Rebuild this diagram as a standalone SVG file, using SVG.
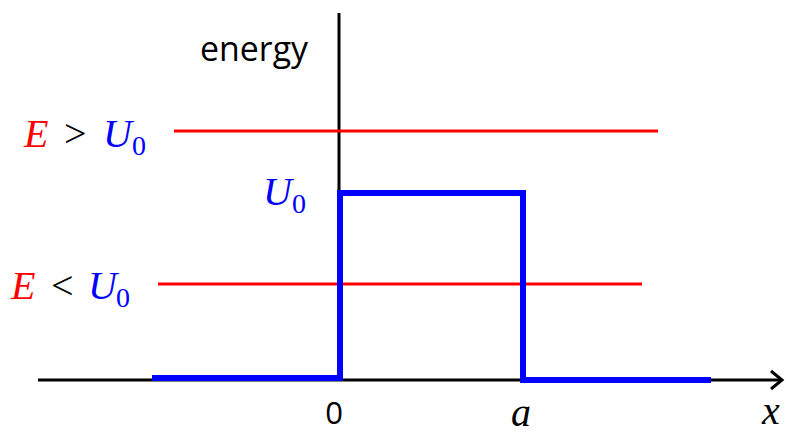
<svg xmlns="http://www.w3.org/2000/svg" width="786" height="434" viewBox="0 0 786 434">
<style>
.ax{stroke:#000;stroke-width:3;fill:none}
.lvl{stroke:#ff0000;stroke-width:3;fill:none}
.pot{stroke:#0000ff;stroke-width:6;fill:none;stroke-linejoin:miter}
.m{font-family:"Liberation Serif","Times New Roman",serif;font-size:40px}
.i{font-style:italic}
.s{font-size:28px;font-style:normal}
.r{fill:#ff0000}
.b{fill:#0000ff}
.k{fill:#000}
.sans{font-family:"Open Sans","Liberation Sans",sans-serif;fill:#000}
</style>
<rect width="786" height="434" fill="#fff"/>
<g id="connectors">
<line class="ax" x1="339" y1="13" x2="339" y2="380"/>
<line class="ax" x1="38" y1="380" x2="782" y2="380"/>
<polyline class="ax" points="771,371 782,380 771,389"/>
<line class="lvl" x1="174" y1="131" x2="658" y2="131"/>
<line class="lvl" x1="158" y1="284" x2="642" y2="284"/>
<path class="pot" d="M152,378 H340 V193 H523 V380 H711"/>
</g>
<g id="label-energy"><text class="sans" x="200" y="61" font-size="35" textLength="108" lengthAdjust="spacingAndGlyphs">energy</text></g>
<g id="label-E-gt-U0">
<text class="m i r" x="24" y="147">E</text>
<text class="m k" x="64" y="147">&gt;</text>
<text class="m i b" x="103" y="147">U</text>
<text class="m s b" x="132" y="155">0</text>
</g>
<g id="label-E-lt-U0">
<text class="m i r" x="11" y="299">E</text>
<text class="m k" x="51" y="299">&lt;</text>
<text class="m i b" x="88" y="299">U</text>
<text class="m s b" x="116" y="307">0</text>
</g>
<g id="label-U0">
<text class="m i b" x="263" y="205">U</text>
<text class="m s b" x="292" y="213">0</text>
</g>
<g id="label-zero"><text class="sans" x="334" y="424" font-size="31" text-anchor="middle">0</text></g>
<g id="label-a"><text class="m i k" x="511" y="426">a</text></g>
<g id="label-x"><text class="m i k" x="762" y="424">x</text></g>
</svg>
